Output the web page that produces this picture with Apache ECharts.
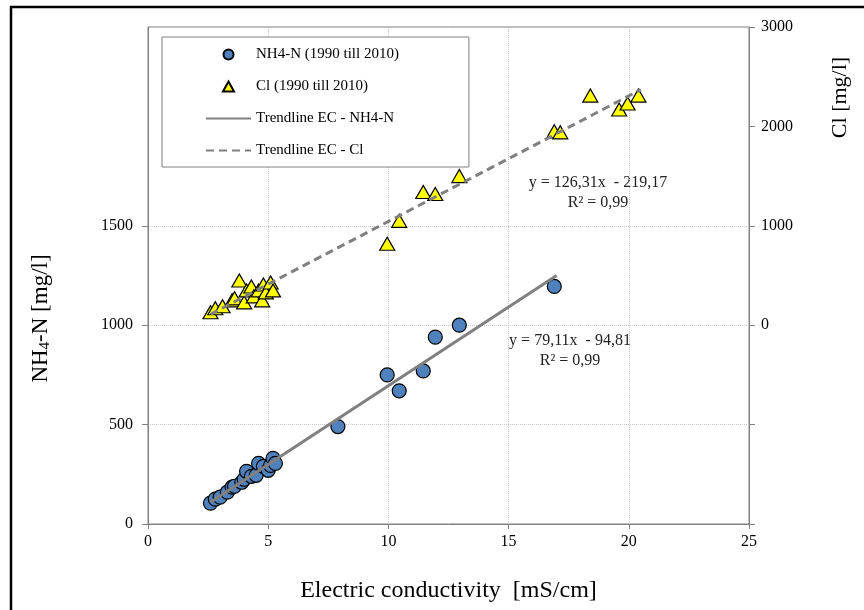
<!DOCTYPE html>
<html>
<head>
<meta charset="utf-8">
<title>NH4-N och Cl mot EC</title>
<script src="https://cdn.jsdelivr.net/npm/echarts@6/dist/echarts.min.js"></script>
<style>
  html, body { margin: 0; padding: 0; background: #fff; }
  #main { width: 864px; height: 610px; }
</style>
</head>
<body>
<div id="main"></div>
<script>
// EC [mS/cm] -> NH4-N [mg/l]
var nh4Points = [
    [2.6, 105], [2.8, 125], [3.0, 135], [3.3, 160], [3.5, 185], [3.6, 190],
    [3.9, 210], [4.0, 225], [4.1, 265], [4.3, 240], [4.5, 245], [4.6, 305],
    [4.8, 290], [5.0, 270], [5.1, 295], [5.2, 330], [5.3, 305],
    [7.9, 490], [9.95, 750], [10.45, 670], [11.45, 770], [11.95, 940],
    [12.95, 1000], [16.9, 1195]
];
// EC [mS/cm] -> Cl [mg/l]
var clPoints = [
    [2.6, 130], [2.8, 170], [3.1, 190], [3.5, 250], [3.6, 270], [3.8, 450],
    [4.0, 230], [4.1, 350], [4.3, 390], [4.4, 290], [4.6, 350], [4.75, 250],
    [4.8, 410], [4.9, 330], [5.1, 430], [5.2, 350],
    [9.95, 820], [10.45, 1050], [11.45, 1340], [11.95, 1320], [12.95, 1500],
    [16.9, 1950], [17.15, 1940], [18.4, 2310], [19.6, 2170], [19.95, 2230], [20.4, 2310]
];
// trendline ends as drawn
var nh4Trend = [[2.6, 110], [17.0, 1250]];
var clTrend = [[2.6, 110], [20.5, 2370]];

var nh4Labels = ['y = 79,11x  - 94,81', 'R\u00b2 = 0,99'];
var clLabels = ['y = 126,31x  - 219,17', 'R\u00b2 = 0,99'];

var leftTicks = [0, 500, 1000, 1500];
var rightTicks = [0, 1000, 2000, 3000];

var serif = 'Liberation Serif';
var gridCol = '#c8c8c8';
var axisCol = '#808080';

function plain(v) {
    return String(v);
}

var myChart = echarts.init(document.getElementById('main'));

var option = {
    backgroundColor: '#fff',
    animation: false,
    textStyle: { fontFamily: serif, color: '#000' },
    grid: {
        left: 148, right: 115, top: 27, bottom: 86,
        show: true, borderColor: axisCol, borderWidth: 1
    },
    legend: {
        left: 162, top: 37,
        orient: 'vertical',
        itemWidth: 45, itemHeight: 10, itemGap: 17,
        padding: [10, 70, 9, 43],
        symbolKeepAspect: true,
        backgroundColor: '#fff',
        borderColor: axisCol, borderWidth: 1,
        textStyle: { fontFamily: serif, fontSize: 15, color: '#000' },
        data: [
            { name: 'NH4-N (1990 till 2010)' },
            { name: 'Cl (1990 till 2010)', icon: 'path://M5,0L10,9L0,9Z' },
            { name: 'Trendline EC - NH4-N', itemStyle: { opacity: 0 } },
            { name: 'Trendline EC - Cl', itemStyle: { opacity: 0 } }
        ]
    },
    xAxis: {
        type: 'value', min: 0, max: 25, interval: 5,
        name: 'Electric conductivity  [mS/cm]',
        nameLocation: 'middle', nameGap: 55,
        nameTextStyle: { fontFamily: serif, fontSize: 24, color: '#000' },
        axisLine: { show: true, onZero: false, lineStyle: { color: axisCol } },
        axisTick: { show: true, length: 5, lineStyle: { color: axisCol } },
        axisLabel: { fontFamily: serif, fontSize: 16, color: '#000', margin: 10 },
        splitLine: { show: true, lineStyle: { color: gridCol, type: 'dotted' } }
    },
    yAxis: [{
        type: 'value', min: 0, max: 2500, interval: 500,
        position: 'left',
        name: '{a|NH}{s|4}{a|-N [mg/l]}',
        nameLocation: 'middle', nameGap: 95,
        nameTextStyle: {
            padding: [0, 86, 0, 0],
            rich: {
                a: { fontFamily: serif, fontSize: 23, color: '#000' },
                s: { fontFamily: serif, fontSize: 15, color: '#000', verticalAlign: 'bottom', padding: [9, 0, 0, 0] }
            }
        },
        axisLine: { show: true, lineStyle: { color: axisCol } },
        axisTick: { show: true, length: 6, customValues: leftTicks, lineStyle: { color: axisCol } },
        axisLabel: {
            fontFamily: serif, fontSize: 16, color: '#000', margin: 15,
            customValues: leftTicks, formatter: plain
        },
        splitLine: { show: true, lineStyle: { color: gridCol, type: 'dotted' } }
    }, {
        type: 'value', min: -2000, max: 3000, interval: 1000,
        position: 'right',
        name: 'Cl [mg/l]',
        nameLocation: 'middle', nameGap: 80,
        nameTextStyle: { fontFamily: serif, fontSize: 22, color: '#000', padding: [0, 0, 0, 356] },
        axisLine: { show: true, lineStyle: { color: axisCol } },
        axisTick: { show: true, length: 6, lineStyle: { color: axisCol } },
        axisLabel: {
            fontFamily: serif, fontSize: 16, color: '#000', margin: 12,
            customValues: rightTicks, formatter: plain
        },
        splitLine: { show: false }
    }],
    series: [{
        name: 'NH4-N (1990 till 2010)',
        type: 'scatter', yAxisIndex: 0,
        symbol: 'circle', symbolSize: 14,
        itemStyle: { color: '#4F81BD', borderColor: '#000', borderWidth: 1.2, opacity: 1 },
        data: nh4Points, z: 3
    }, {
        name: 'Cl (1990 till 2010)',
        type: 'scatter', yAxisIndex: 1,
        symbol: 'triangle', symbolSize: [15, 13],
        itemStyle: { color: '#FFFF00', borderColor: '#000', borderWidth: 1.2, opacity: 1 },
        data: clPoints, z: 3
    }, {
        name: 'Trendline EC - NH4-N',
        type: 'line', yAxisIndex: 0,
        symbol: 'none', showSymbol: false,
        lineStyle: { color: axisCol, width: 3 },
        itemStyle: { color: axisCol },
        data: nh4Trend, z: 4
    }, {
        name: 'Trendline EC - Cl',
        type: 'line', yAxisIndex: 1,
        symbol: 'none', showSymbol: false,
        lineStyle: { color: axisCol, width: 3, type: [8, 5] },
        itemStyle: { color: axisCol },
        data: clTrend, z: 4
    }],
    graphic: [{
        type: 'rect', silent: true,
        shape: { x: 11, y: 7, width: 900, height: 700 },
        style: { fill: 'none', stroke: '#000', lineWidth: 2.5 }
    }, {
        type: 'text', x: 570, y: 351,
        style: {
            text: nh4Labels.join('\n'), fontFamily: serif, fontSize: 16,
            fill: '#222', align: 'center', verticalAlign: 'middle', lineHeight: 20
        }
    }, {
        type: 'text', x: 598, y: 193,
        style: {
            text: clLabels.join('\n'), fontFamily: serif, fontSize: 16,
            fill: '#222', align: 'center', verticalAlign: 'middle', lineHeight: 20
        }
    }]
};

myChart.setOption(option);
</script>
</body>
</html>
